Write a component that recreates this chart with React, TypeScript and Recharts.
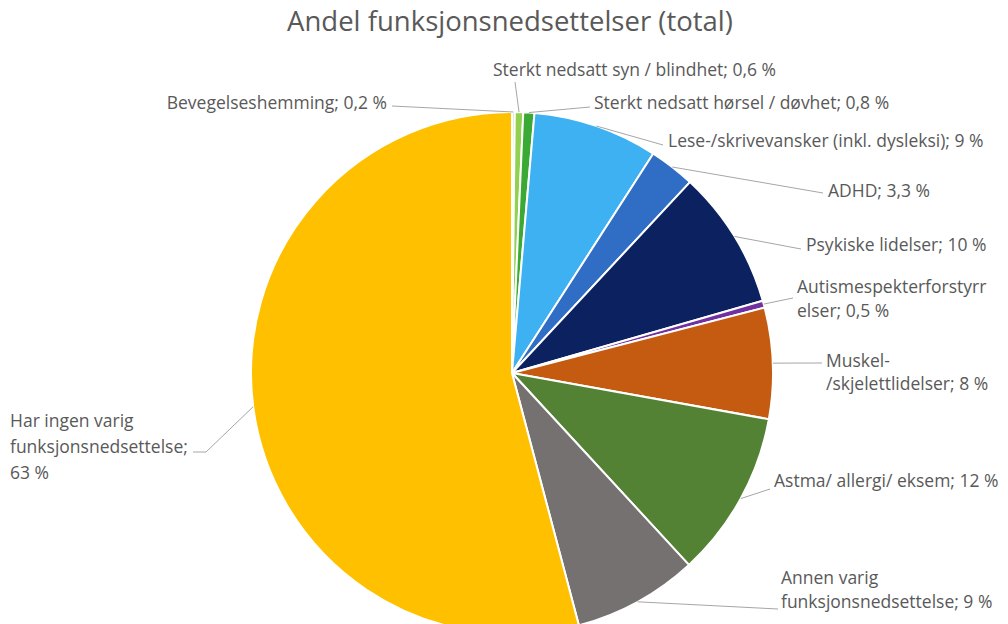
import React from 'react';
import { PieChart, Pie, Cell } from 'recharts';

// categories, clockwise from 12 o'clock
const categories = [
  'Bevegelseshemming',
  'Sterkt nedsatt syn / blindhet',
  'Sterkt nedsatt hørsel / døvhet',
  'Lese-/skrivevansker (inkl. dysleksi)',
  'ADHD',
  'Psykiske lidelser',
  'Autismespekterforstyrrelser',
  'Muskel-/skjelettlidelser',
  'Astma/ allergi/ eksem',
  'Annen varig funksjonsnedsettelse',
  'Har ingen varig funksjonsnedsettelse',
];

// share in percent
const shares = [0.2, 0.6, 0.8, 9, 3.3, 10, 0.5, 8, 12, 9, 63];

const colors = [
  '#C9E2B3',
  '#92D050',
  '#3AAA35',
  '#3DB1F2',
  '#2F6EC4',
  '#0B2160',
  '#7030A0',
  '#C55A11',
  '#548235',
  '#767171',
  '#FFC000',
];

// where each label sits (text x / first baseline, line gap, break points in the label, end of leader line)
const labelLayout = [
  { x: 387, y: 109, gap: 24, anchor: 'end', breaks: [], end: [[392, 106]] },
  { x: 493, y: 76, gap: 24, anchor: 'start', breaks: [], end: [[515, 82]] },
  { x: 594, y: 109, gap: 24, anchor: 'start', breaks: [], end: [[590, 107]] },
  { x: 668, y: 147, gap: 24, anchor: 'start', breaks: [], end: [[663, 145]] },
  { x: 828, y: 197, gap: 24, anchor: 'start', breaks: [], end: [[823, 193]] },
  { x: 806, y: 251, gap: 24, anchor: 'start', breaks: [], end: [[801, 249]] },
  { x: 797, y: 293, gap: 24, anchor: 'start', breaks: [22], end: [[793, 298]] },
  { x: 826, y: 367, gap: 23, anchor: 'start', breaks: [7], end: [[822, 363]] },
  { x: 774, y: 487, gap: 24, anchor: 'start', breaks: [], end: [[770, 489]] },
  { x: 781, y: 584, gap: 24, anchor: 'start', breaks: [12], end: [[778, 609]] },
  { x: 10, y: 427, gap: 26, anchor: 'start', breaks: [16, 38], end: [[206, 452], [193, 452]] },
];

const data = categories.map((name, i) => ({ name, value: shares[i] }));

const FONT = '"Open Sans", Lato, sans-serif';
const TEXT = '#595959';
const RAD = Math.PI / 180;

const fmt = (v: number) => String(v).replace('.', ',') + ' %';

const splitAt = (s: string, breaks: number[]) => {
  const out: string[] = [];
  let prev = 0;
  breaks.forEach(b => {
    out.push(s.slice(prev, b).trim());
    prev = b;
  });
  out.push(s.slice(prev).trim());
  return out;
};

const renderLabel = (props: any) => {
  const { cx, cy, midAngle, outerRadius, index, name, value } = props;
  const lay = labelLayout[index];
  const sx = cx + outerRadius * Math.cos(-midAngle * RAD);
  const sy = cy + outerRadius * Math.sin(-midAngle * RAD);
  const pts = [[sx, sy], ...lay.end].map(p => p.join(',')).join(' ');
  const lines = splitAt(`${name}; ${fmt(value)}`, lay.breaks);
  return (
    <g key={`lbl-${index}`}>
      <polyline points={pts} fill="none" stroke="#A6A6A6" strokeWidth={1} />
      <text
        x={lay.x}
        y={lay.y}
        textAnchor={lay.anchor as any}
        fill={TEXT}
        fontSize={17.5}
        fontFamily={FONT}
      >
        {lines.map((l, i) => (
          <tspan key={i} x={lay.x} dy={i === 0 ? 0 : lay.gap}>{l}</tspan>
        ))}
      </text>
    </g>
  );
};

const App = () => {
  return (
    <div style={{ position: 'absolute', left: 0, top: 0, width: 1008, height: 624, background: '#fff', overflow: 'hidden' }}>
      <div
        style={{
          position: 'absolute',
          top: 2,
          left: 0,
          width: 1020,
          textAlign: 'center',
          fontFamily: FONT,
          fontSize: 27.5,
          color: TEXT,
        }}
      >
        Andel funksjonsnedsettelser (total)
      </div>
      <PieChart width={1008} height={624} margin={{ top: 0, right: 0, bottom: 0, left: 0 }}>
        <Pie
          data={data}
          dataKey="value"
          nameKey="name"
          cx={512}
          cy={373}
          outerRadius={261}
          startAngle={90}
          endAngle={-270}
          stroke="#fff"
          strokeWidth={2}
          label={renderLabel}
          labelLine={false}
          isAnimationActive={false}
        >
          {data.map((entry, index) => (
            <Cell key={`cell-${index}`} fill={colors[index]} />
          ))}
        </Pie>
      </PieChart>
    </div>
  );
};

export default App;
